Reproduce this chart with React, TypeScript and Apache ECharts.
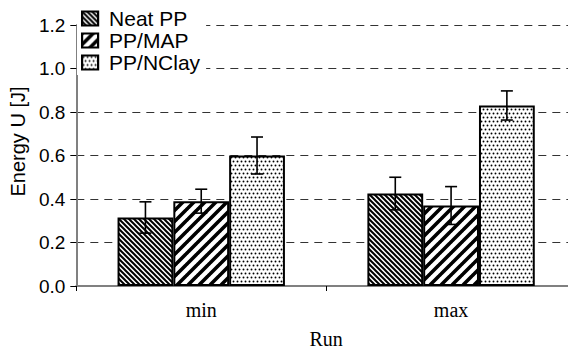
import React, { useEffect, useRef } from "react";
import * as echarts from "echarts";

const categories = ["min", "max"];
const seriesNames = ["Neat PP", "PP/MAP", "PP/NClay"];
const neatPP = [0.315, 0.425];
const ppMAP = [0.39, 0.37];
const ppNClay = [0.60, 0.83];
const neatPPErr = [0.072, 0.075];
const ppMAPErr = [0.055, 0.087];
const ppNClayErr = [0.085, 0.067];
const yTicks = [0, 0.2, 0.4, 0.6, 0.8, 1.0, 1.2];

const svgUrl = (w: number, h: number, body: string) =>
  "data:image/svg+xml;charset=utf-8," +
  encodeURIComponent(
    `<svg xmlns="http://www.w3.org/2000/svg" width="${w}" height="${h}"><rect width="${w}" height="${h}" fill="#fff"/>${body}</svg>`
  );

const patNeat = {
  image: svgUrl(5, 5, `<path d="M-1,-1L6,6M-1,4L1,6M4,-1L6,1" stroke="#000" stroke-width="2"/>`),
  repeat: "repeat",
  imageWidth: 5,
  imageHeight: 5,
};
const patMAP = {
  image: svgUrl(11, 11, `<path d="M-1,12L12,-1M-1,1L1,-1M10,12L12,10" stroke="#000" stroke-width="3.6"/>`),
  repeat: "repeat",
  imageWidth: 11,
  imageHeight: 11,
};
const patNClay = {
  image: svgUrl(8, 8, `<g fill="#000"><circle cx="1.5" cy="1.5" r="0.95"/><circle cx="5.5" cy="1.5" r="0.95"/><circle cx="3.5" cy="5.5" r="0.95"/><circle cx="7.5" cy="5.5" r="0.95"/><circle cx="-0.5" cy="5.5" r="0.95"/></g>`),
  repeat: "repeat",
  imageWidth: 8,
  imageHeight: 8,
};

const ARIAL = 'Arial, "Liberation Sans", sans-serif';
const TIMES = '"Times New Roman", "Liberation Serif", serif';
const CAT_GAP = 0.33;

export default function App() {
  const ref = useRef<HTMLDivElement>(null);
  useEffect(() => {
    if (!ref.current) return;
    const chart = echarts.init(ref.current, null, { renderer: "svg" });
    const values = [neatPP, ppMAP, ppNClay];
    const errs = [neatPPErr, ppMAPErr, ppNClayErr];
    const pats = [patNeat, patMAP, patNClay];

    const barSeries = seriesNames.map((name, i) => ({
      type: "bar",
      name,
      data: values[i],
      barGap: "0%",
      barCategoryGap: CAT_GAP * 100 + "%",
      itemStyle: { color: pats[i] as any, borderColor: "#000", borderWidth: 2 },
      z: 2,
    }));

    const errSeries = seriesNames.map((name, i) => ({
      type: "custom",
      name: name + " error",
      data: values[i].map((v, j) => [j, v, errs[i][j]]),
      z: 5,
      silent: true,
      renderItem: (params: any, api: any) => {
        const xi = api.value(0);
        const v = api.value(1);
        const e = api.value(2);
        const band = api.size([1, 0])[0];
        const barW = (band * (1 - CAT_GAP)) / 3;
        const base = api.coord([xi, v]);
        const cx = base[0] + (i - 1) * barW;
        const top = api.coord([xi, v + e])[1];
        const bot = api.coord([xi, v - e])[1];
        const hw = 6;
        const st = { stroke: "#000", lineWidth: 1.6 };
        return {
          type: "group",
          children: [
            { type: "line", shape: { x1: cx, y1: top, x2: cx, y2: bot }, style: st },
            { type: "line", shape: { x1: cx - hw, y1: top, x2: cx + hw, y2: top }, style: st },
            { type: "line", shape: { x1: cx - hw, y1: bot, x2: cx + hw, y2: bot }, style: st },
          ],
        };
      },
    }));

    chart.setOption({
      animation: false,
      backgroundColor: "#fff",
      grid: { left: 69, top: 25, bottom: 62, width: 511, containLabel: false },
      legend: {
        data: seriesNames,
        orient: "vertical",
        icon: "rect",
        left: 77,
        top: 7,
        itemGap: 1,
        itemWidth: 16,
        itemHeight: 14,
        backgroundColor: "#fff",
        padding: [1, 6, 2, 4],
        itemStyle: { borderColor: "#000", borderWidth: 2.2 },
        textStyle: { fontFamily: ARIAL, fontSize: 21, lineHeight: 21, color: "#000", padding: [0, 0, 0, 6] },
        z: 10,
      },
      xAxis: {
        type: "category",
        data: categories,
        name: "Run",
        nameLocation: "middle",
        nameGap: 43,
        nameTextStyle: { fontFamily: TIMES, fontSize: 20, color: "#000" },
        axisLine: { lineStyle: { color: "#808080", width: 2 } },
        axisTick: { show: true, length: 5, lineStyle: { color: "#000" } },
        axisLabel: { fontFamily: TIMES, fontSize: 20, color: "#000", margin: 14 },
      },
      yAxis: {
        type: "value",
        min: 0,
        max: 1.2,
        interval: 0.2,
        name: "Energy U [J]",
        nameLocation: "middle",
        nameGap: 42,
        nameRotate: 90,
        nameTextStyle: { fontFamily: ARIAL, fontSize: 20, color: "#000", padding: [0, 0, 0, 28] },
        axisLine: { show: true, lineStyle: { color: "#808080", width: 2 } },
        axisTick: { show: true, length: 6, lineStyle: { color: "#000" } },
        axisLabel: {
          fontFamily: ARIAL,
          fontSize: 19,
          color: "#000",
          margin: 11,
          formatter: (v: number) => (yTicks.includes(Math.round(v * 10) / 10) ? v.toFixed(1) : ""),
        },
        splitLine: { show: true, lineStyle: { color: "#333", type: [8, 6], width: 1 } },
      },
      series: [...barSeries, ...errSeries],
    });
    return () => chart.dispose();
  }, []);
  return <div ref={ref} style={{ width: 576, height: 354, margin: -8 }} />;
}
